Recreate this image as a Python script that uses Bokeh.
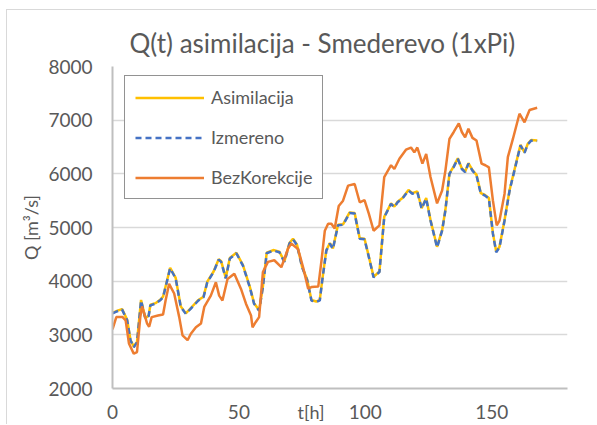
from bokeh.plotting import figure
from bokeh.models import Legend, LegendItem, FixedTicker, Range1d, Title
from bokeh.embed import file_html
from bokeh.resources import INLINE

# ---- data ----
t_izm = [0, 2, 3.8, 5.8, 7.1, 8.4, 9.7, 11.3, 13, 14.3, 15, 17, 19, 20, 21, 22.8, 25, 27, 29, 31,
         34, 36, 37.5, 40, 42, 43, 44.8, 46.4, 49, 51.6, 54.3, 56, 58, 59.5, 61, 63.6, 66, 68, 70,
         71.4, 73, 75, 77, 78.7, 80.6, 82, 83, 84.6, 86, 87.2, 89.2, 91.2, 93.8, 95.8, 97.8, 99.7,
         101.4, 103.3, 105.6, 107.5, 110.2, 111.5, 112.8, 114.7, 117.1, 118.6, 120.6, 122.3, 124.1,
         125.8, 128.4, 130.4, 131.7, 133.3, 135, 136.6, 138.2, 139.5, 140.8, 142.4, 144, 145.7,
         147.2, 148.9, 150.5, 151.8, 153.1, 155.1, 157.1, 159, 161.4, 163, 164.3, 165.6, 168]
q_izm = [3400, 3440, 3470, 3270, 2900, 2770, 2860, 3640, 3300, 3350, 3550, 3580, 3650, 3700, 3890,
         4240, 4050, 3520, 3390, 3490, 3640, 3700, 3980, 4170, 4400, 4360, 4050, 4420, 4520, 4290,
         3890, 3580, 3450, 3890, 4520, 4570, 4540, 4360, 4700, 4780, 4670, 4260, 4020, 3640, 3610,
         3640, 4020, 4570, 4700, 4600, 5040, 5050, 5270, 5260, 4790, 4780, 4450, 4070, 4170, 5190,
         5440, 5380, 5470, 5540, 5690, 5630, 5660, 5350, 5540, 5130, 4630, 4940, 5320, 6000, 6130,
         6280, 6090, 6030, 6190, 6060, 5970, 5630, 5600, 5540, 4880, 4540, 4630, 5130, 5690, 6060,
         6530, 6390, 6550, 6620, 6610]

t_asim = t_izm
q_asim = [3410, 3450, 3480, 3280, 2910, 2780, 2870, 3650, 3310, 3360, 3560, 3590, 3660, 3710, 3900,
          4250, 4060, 3530, 3400, 3500, 3650, 3710, 3990, 4180, 4410, 4370, 4060, 4430, 4530, 4300,
          3900, 3590, 3460, 3900, 4530, 4580, 4550, 4370, 4710, 4790, 4680, 4270, 4030, 3650, 3620,
          3650, 4030, 4580, 4710, 4610, 5050, 5060, 5280, 5270, 4800, 4790, 4460, 4080, 4180, 5200,
          5450, 5390, 5480, 5550, 5700, 5640, 5670, 5360, 5550, 5140, 4640, 4950, 5330, 6010, 6140,
          6290, 6100, 6040, 6200, 6070, 5980, 5640, 5610, 5550, 4890, 4550, 4640, 5140, 5700, 6070,
          6540, 6400, 6560, 6630, 6620]

t_bez = [0, 1.5, 4, 5.2, 6.5, 8.4, 9.7, 11, 11.7, 13.7, 14.5, 15.5, 18, 20, 21, 22.4, 24.4, 26.4,
         27.7, 29.7, 31, 33, 35, 36.3, 38.9, 40.9, 42.2, 43.5, 45.5, 48.2, 50.8, 52.8, 54.8, 55.4,
         56.7, 58, 59.5, 61.5, 64, 66.8, 69.4, 70.7, 73.4, 75.4, 77.4, 78.7, 81.4, 82.7, 84, 85.3,
         86.6, 87.9, 89.5, 91.2, 93.2, 95.8, 97.8, 99.7, 101.4, 103.3, 105.6, 107.5, 110.2, 111.5,
         113.5, 116.1, 118.1, 119.4, 120.6, 122.6, 124.1, 125.8, 128.4, 130.4, 131.7, 133.3, 135,
         137, 138.2, 139.5, 140.8, 142.4, 144, 146, 147.5, 148.9, 150.5, 152, 153.1, 155.1, 156.4,
         158.4, 161, 163, 165, 168]
q_bez = [3100, 3330, 3330, 3270, 2840, 2650, 2680, 3330, 3530, 3210, 3150, 3330, 3360, 3380, 3640,
         3950, 3770, 3330, 2990, 2900, 3020, 3140, 3210, 3520, 3730, 3980, 3730, 3640, 4040, 4140,
         3860, 3580, 3360, 3140, 3240, 3330, 4170, 4360, 4390, 4260, 4600, 4700, 4600, 4260, 3860,
         3890, 3900, 4390, 4940, 5070, 5070, 4980, 5400, 5500, 5780, 5810, 5470, 5510, 5260, 4940,
         5040, 5940, 6160, 6090, 6280, 6450, 6490, 6400, 6490, 6190, 6370, 5940, 5450, 5690, 6060,
         6650, 6780, 6940, 6780, 6680, 6840, 6670, 6620, 6190, 6160, 6120, 5500, 5040, 5130, 5630,
         6310, 6650, 7120, 6960, 7190, 7230]

x_ticks = [0, 50, 100, 150]
y_ticks = [2000, 3000, 4000, 5000, 6000, 7000, 8000]
series_names = ["Asimilacija", "Izmereno", "BezKorekcije"]

TXT = "#595959"
FONT = "Lato"

p = figure(width=590, height=415, output_backend="svg", toolbar_location=None,
           x_range=Range1d(0, 180), y_range=Range1d(2000, 8000),
           min_border_left=105, min_border_right=30, min_border_top=56, min_border_bottom=37,
           background_fill_color="white", border_fill_color="white")
p.outline_line_color = None
# light chart-area border at the top and left, as in the reference
p.styles = {"margin-left": "6px", "margin-top": "9px",
            "border-left": "1px solid #d9d9d9", "border-top": "1px solid #d9d9d9"}

p.title.text = "Q(t)  asimilacija - Smederevo (1xPi)"
p.title.align = "left"
p.title.offset = 17
p.title.text_font = FONT
p.title.text_font_size = "26px"
p.title.text_font_style = "normal"
p.title.text_color = TXT
p.title.standoff = 15

p.xgrid.visible = False
p.ygrid.ticker = FixedTicker(ticks=y_ticks)
p.ygrid.grid_line_color = "#d9d9d9"
p.ygrid.grid_line_width = 1.5

p.xaxis.ticker = FixedTicker(ticks=x_ticks)
p.yaxis.ticker = FixedTicker(ticks=y_ticks)
for ax in (p.xaxis[0], p.yaxis[0]):
    ax.axis_line_color = "#bfbfbf"
    ax.axis_line_width = 2
    ax.major_tick_out = 0
    ax.major_tick_in = 0
    ax.minor_tick_out = 0
    ax.minor_tick_in = 0
    ax.major_label_text_font = FONT
    ax.major_label_text_font_size = "19px"
    ax.major_label_text_color = TXT
p.xaxis.major_label_standoff = 16
p.yaxis.major_label_standoff = 20
p.yaxis.axis_label = "Q [m³/s]"
p.yaxis.axis_label_text_font = FONT
p.yaxis.axis_label_text_font_size = "18px"
p.yaxis.axis_label_text_font_style = "normal"
p.yaxis.axis_label_text_color = TXT
p.yaxis.axis_label_standoff = 3

r_a = p.line(t_asim, q_asim, line_color="#FFC000", line_width=2.5)
r_i = p.line(t_izm, q_izm, line_color="#4472C4", line_width=2.5, line_dash="6 4")
r_b = p.line(t_bez, q_bez, line_color="#ED7D31", line_width=2.5)

legend = Legend(items=[LegendItem(label=series_names[0], renderers=[r_a]),
                       LegendItem(label=series_names[1], renderers=[r_i]),
                       LegendItem(label=series_names[2], renderers=[r_b])],
                location=(12, 189))
legend.glyph_width = 69
legend.glyph_height = 21
legend.label_height = 21
legend.label_width = 99
legend.label_standoff = 7
legend.spacing = 18
legend.padding = 10
legend.margin = 0
legend.border_line_color = "#262626"
legend.border_line_width = 1
legend.background_fill_color = "white"
legend.background_fill_alpha = 1
legend.label_text_font = FONT
legend.label_text_font_size = "18px"
legend.label_text_color = TXT
p.add_layout(legend, "center")

# x-axis title, placed below the tick labels
xtitle = Title(text="t[h]", align="left", offset=185, vertical_align="top", standoff=-42,
               text_font=FONT, text_font_size="18px", text_font_style="normal",
               text_color=TXT)
p.add_layout(xtitle, "below")

open("out.html", "w").write(file_html(p, INLINE))
